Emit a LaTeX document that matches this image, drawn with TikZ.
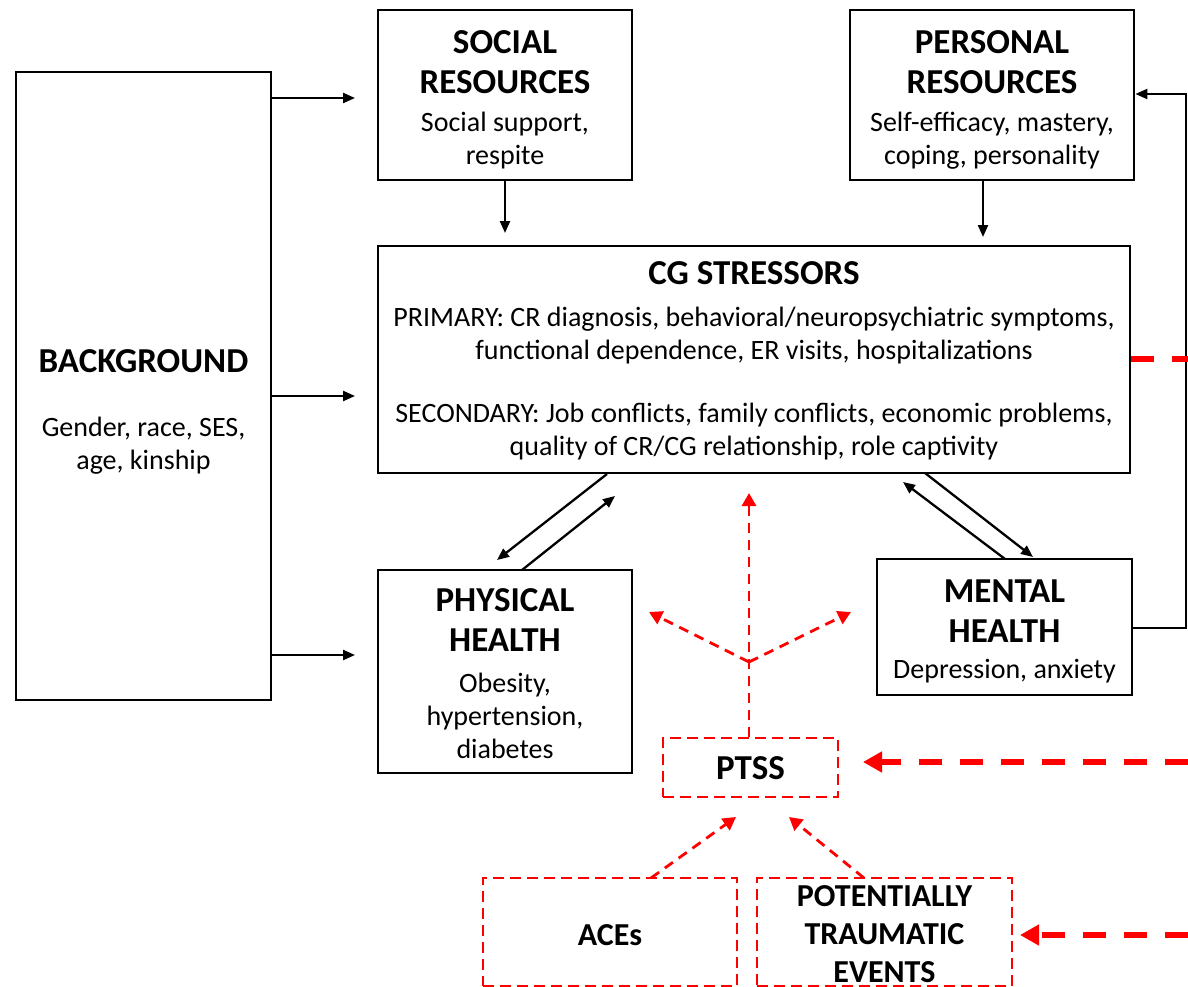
\documentclass[tikz,border=0pt]{standalone}
\usepackage{fontspec}
\setmainfont{Carlito}
\usetikzlibrary{arrows.meta}
\tikzset{
  x=1pt, y=-1pt,
  box/.style={draw, line width=2.8pt, inner sep=0pt},
  rbox/.style={draw=red, line width=2.8pt, dash pattern=on 11pt off 6pt, inner sep=0pt},
  ttl/.style={font=\fontsize{35}{40}\selectfont\bfseries, align=center, inner sep=0pt},
  bdy/.style={font=\fontsize{28}{33}\selectfont, align=center, inner sep=0pt},
  btl/.style={font=\fontsize{32}{38}\selectfont\bfseries, align=center, inner sep=0pt},
  arr/.style={line width=2.3pt, -{Triangle[length=12pt,width=10pt]}},
  rarr/.style={draw=red, line width=2.8pt, dash pattern=on 10pt off 7pt, -{Triangle[length=13pt,width=14pt]}},
  rthick/.style={draw=red, line width=5.5pt, dash pattern=on 23pt off 18pt},
  rthickarr/.style={rthick, -{Triangle[length=19pt,width=20pt]}},
}
\begin{document}
\begin{tikzpicture}
\useasboundingbox (0,0) rectangle (1188,987);
% boxes
\node[box, minimum width=255pt, minimum height=628pt] (bg) at (143.5,386) {};
\node[box, minimum width=254pt, minimum height=170pt] (soc) at (505,95) {};
\node[box, minimum width=284pt, minimum height=170pt] (per) at (992,95) {};
\node[box, minimum width=752pt, minimum height=227pt] (cg) at (754,359.5) {};
\node[box, minimum width=254pt, minimum height=203pt] (phy) at (505,671.5) {};
\node[box, minimum width=255pt, minimum height=136pt] (men) at (1004.5,627) {};
\node[rbox, minimum width=175pt, minimum height=59pt] (ptss) at (750.5,767.5) {};
\node[rbox, minimum width=254pt, minimum height=108pt] (ace) at (610,932) {};
\node[rbox, minimum width=255pt, minimum height=108pt] (pte) at (884.5,932) {};
% texts
\node[ttl] (bgT) at (143.5,361) {BACKGROUND};
\node[bdy] (bgB) at (143.5,445.5) {Gender, race, SES,\\age, kinship};
\node[ttl] (socT) at (505,62) {SOCIAL\\RESOURCES};
\node[bdy] (socB) at (505,141) {Social support,\\respite};
\node[ttl] (perT) at (992,62) {PERSONAL\\RESOURCES};
\node[bdy] (perB) at (992,141) {Self-efficacy, mastery,\\coping, personality};
\node[ttl] (cgT) at (754,273) {CG STRESSORS};
\node[bdy] (cgP) at (754,336) {PRIMARY: CR diagnosis, behavioral/neuropsychiatric symptoms,\\functional dependence, ER visits, hospitalizations};
\node[bdy] (cgS) at (754,432) {SECONDARY: Job conflicts, family conflicts, economic problems,\\quality of CR/CG relationship, role captivity};
\node[ttl] (phyT) at (505,620.5) {PHYSICAL\\HEALTH};
\node[bdy] (phyB) at (505,716) {Obesity,\\hypertension,\\diabetes};
\node[ttl] (menT) at (1004.5,611.5) {MENTAL\\HEALTH};
\node[bdy] (menB) at (1004.5,671) {Depression, anxiety};
\node[ttl] (ptssT) at (750.5,768) {PTSS};
\node[btl] (aceT) at (610,935) {ACEs};
\node[btl] (pteT) at (884.5,934) {POTENTIALLY\\TRAUMATIC\\EVENTS};
% coordinates
\coordinate (t1) at (355,98);
\coordinate (t2) at (355,396);
\coordinate (t3) at (355,655);
\coordinate (t4) at (505,233);
\coordinate (t5) at (983,237);
\coordinate (s6) at (607,474);
\coordinate (t6) at (497,560);
\coordinate (s7) at (522,570);
\coordinate (t7) at (615,496);
\coordinate (s8) at (1005,559);
\coordinate (t8) at (903,482);
\coordinate (s9) at (925,473);
\coordinate (t9) at (1033,557);
\coordinate (fb1) at (1186,628);
\coordinate (fb2) at (1186,94);
\coordinate (edge1) at (1188,359);
\coordinate (up) at (749,493);
\coordinate (br) at (749,662);
\coordinate (bl) at (649,612);
\coordinate (brr) at (851,612);
\coordinate (edge2) at (1188,762);
\coordinate (t10) at (863,762);
\coordinate (s11) at (651,878);
\coordinate (t11) at (736,817);
\coordinate (s12) at (864,878);
\coordinate (t12) at (789,817);
\coordinate (edge3) at (1188,935);
\coordinate (t13) at (1020,935);
% black connectors
\draw[arr] (bg.east |- t1) -- (t1);
\draw[arr] (bg.east |- t2) -- (t2);
\draw[arr] (bg.east |- t3) -- (t3);
\draw[arr] (soc.south -| t4) -- (t4);
\draw[arr] (per.south -| t5) -- (t5);
\draw[arr] (s6) -- (t6);
\draw[arr] (s7) -- (t7);
\draw[arr] (s8) -- (t8);
\draw[arr] (s9) -- (t9);
\draw[arr] (men.east |- fb1) -- (fb1) -- (fb2) -- (per.east |- fb2);
% red connectors
\draw[rthick] (cg.east |- edge1) -- (edge1);
\draw[rarr] (ptss.north -| up) -- (up);
\draw[rarr] (br) -- (bl);
\draw[rarr] (br) -- (brr);
\draw[rthickarr] (edge2) -- (t10);
\draw[rarr] (s11) -- (t11);
\draw[rarr] (s12) -- (t12);
\draw[rthickarr] (edge3) -- (t13);
\end{tikzpicture}
\end{document}
